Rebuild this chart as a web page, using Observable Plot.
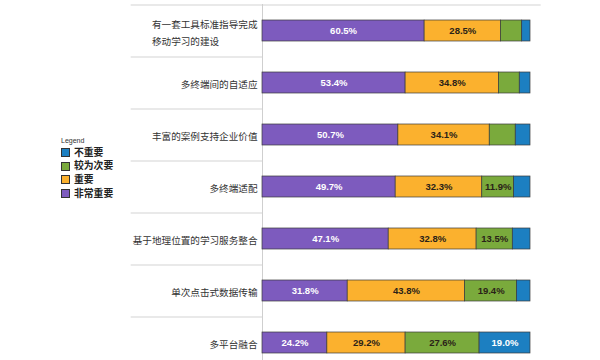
<!DOCTYPE html>
<html><head><meta charset="utf-8">
<script src="https://cdn.jsdelivr.net/npm/d3@7"></script>
<script src="https://cdn.jsdelivr.net/npm/@observablehq/plot@0.6"></script>
<style>
body{margin:0;background:#fff;overflow:hidden;font-family:"Noto Sans CJK SC","Noto Sans",sans-serif}
#wrap{position:relative;width:600px;height:360px;overflow:hidden}
#legend{position:absolute;left:61px;top:137px;color:#222;z-index:2}
#legend .title{font-family:"Liberation Sans",sans-serif;font-size:7px;line-height:8px;height:8.5px;color:#333}
#legend .item{display:flex;align-items:center;font-size:9.8px;line-height:13.8px;height:13.8px;font-weight:bold}
#legend .sw{width:7px;height:7px;border:1px solid #333;margin-right:4px;box-sizing:content-box}
</style></head><body>
<div id="wrap"><div id="legend"></div></div>
<script>
const categories = ["有一套工具标准指导完成\n移动学习的建设\u3000\u3000\u3000\u3000","多终端间的自适应","丰富的案例支持企业价值","多终端适配","基于地理位置的学习服务整合","单次点击式数据传输","多平台融合"];
const levels = ["非常重要","重要","较为次要","不重要"];
const veryImportant = [60.5,53.4,50.7,49.7,47.1,31.8,24.2];
const important = [28.5,34.8,34.1,32.3,32.8,43.8,29.2];
const secondary = [7.9,7.8,9.7,11.9,13.5,19.4,27.6];
const notImportant = [3.1,4.0,5.5,6.1,6.6,5.0,19.0];
const colors = ["#7d5bbe","#fbb12e","#7aaa3c","#1c7fc1"];
const legendOrder = ["不重要","较为次要","重要","非常重要"];

const series = [veryImportant, important, secondary, notImportant];
const data = [];
categories.forEach((c, i) => levels.forEach((l, j) => data.push({cat: c, level: l, value: series[j][i]})));
const fmt = v => v.toFixed(1) + "%";
const light = new Set(["非常重要","不重要"]);

const chart = Plot.plot({
  width: 600, height: 368,
  marginTop: 4, marginBottom: 0, marginLeft: 262, marginRight: 70,
  style: {fontFamily: "'Noto Sans CJK SC', sans-serif", background: "transparent", overflow: "visible"},
  x: {domain: [0, 100], axis: null},
  y: {domain: categories, paddingInner: 0.6, paddingOuter: 0.3, axis: null},
  color: {domain: levels, range: colors},
  marks: [
    Plot.ruleY(categories, {y: d => d, dy: -26, x1: -49, x2: d => d === categories[0] ? 104 : 0, stroke: "#d4d4d4", strokeWidth: 1.2}),
    Plot.ruleX([0], {stroke: "#cfcfcf"}),
    Plot.barX(data, {x: "value", y: "cat", fill: "level", order: levels, stroke: "#3a3a3a", strokeWidth: 0.7}),
    Plot.text(data, Plot.stackX({x: "value", y: "cat", z: "level", order: levels,
      text: d => light.has(d.level) && d.value >= 10 ? fmt(d.value) : "",
      fill: "white", fontWeight: "bold", fontSize: 9.5, fontFamily: "'Liberation Sans', sans-serif"})),
    Plot.text(data, Plot.stackX({x: "value", y: "cat", z: "level", order: levels,
      text: d => !light.has(d.level) && d.value >= 10 ? fmt(d.value) : "",
      fill: "#2a2218", fontWeight: "bold", fontSize: 9.5, fontFamily: "'Liberation Sans', sans-serif"})),
    Plot.axisY({tickSize: 0, tickPadding: 5, fontSize: 9.6, lineHeight: 1.75, fill: "#333", label: null})
  ]
});
document.getElementById("wrap").appendChild(chart);

const lg = document.getElementById("legend");
lg.innerHTML = '<div class="title">Legend</div>' + legendOrder.map(l =>
  `<div class="item"><span class="sw" style="background:${colors[levels.indexOf(l)]}"></span>${l}</div>`).join("");
</script>
</body></html>
